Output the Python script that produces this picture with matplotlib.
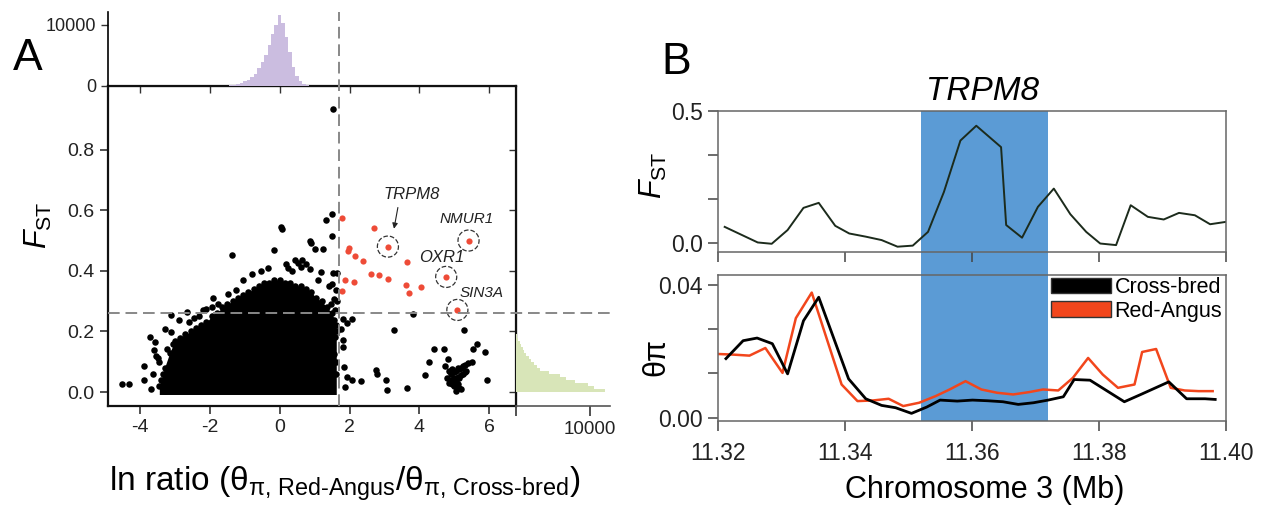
import numpy as np
import matplotlib.pyplot as plt
import matplotlib.transforms as mtransforms
from matplotlib.lines import Line2D
from matplotlib.patches import Rectangle, Patch

plt.rcParams['font.family'] = ['Liberation Sans', 'DejaVu Sans']
plt.rcParams['mathtext.fontset'] = 'custom'
plt.rcParams['mathtext.rm'] = 'Liberation Sans'
plt.rcParams['mathtext.it'] = 'Liberation Sans:italic'
plt.rcParams['axes.unicode_minus'] = False

# ---------------- panel A data ----------------
# dense core of the cloud: upper envelope (x, top F_ST)
core_x = [-3.45, -3.3, -3.15, -3.0, -2.85, -2.7, -2.55, -2.4, -2.25, -2.1, -1.95, -1.8,
          -1.65, -1.5, -1.35, -1.2, -1.05, -0.9, -0.75, -0.6, -0.45, -0.3, -0.15, 0.0,
          0.15, 0.3, 0.45, 0.6, 0.75, 0.9, 1.05, 1.2, 1.35, 1.5, 1.62]
core_top = [0.02, 0.08, 0.13, 0.17, 0.18, 0.19, 0.20, 0.21, 0.22, 0.23, 0.25, 0.26,
            0.28, 0.29, 0.30, 0.31, 0.32, 0.33, 0.34, 0.35, 0.36, 0.36, 0.37, 0.37,
            0.36, 0.36, 0.35, 0.35, 0.34, 0.33, 0.31, 0.30, 0.28, 0.26, 0.22]

# scattered black windows outside the core
pts_x = [1.53, 1.51, 1.33, 1.49, 0.04, 0.06, 0.86, 0.91, 1.0, 1.24, -0.15, -1.38, 0.18,
         0.44, 0.51, 0.65, 0.74, 0.62, 0.88, 1.18, 1.53, 1.65, 1.49, 1.61, 1.56, 1.47,
         1.59, 1.56, 1.53, 1.59, 1.56, 1.61, -1.06, -1.24, -1.47, -1.76, -1.94, -2.12,
         -2.65, -3.12, -2.88, -3.29, -3.12, -3.73, -3.56, -3.59, -3.49, -3.88, -3.88,
         -4.32, -4.51, -3.24, -2.98, -3.18, -3.35, -3.45, -3.05, -2.6, -2.3,
         -3.62, -3.55, -3.4, -3.7, -3.3, -2.45, -2.2, -1.9, -0.55, -0.35, 0.25, 0.35,
         -0.8, 1.1, 1.4, 1.63, 1.64, 1.62,
         1.82, 2.08, 1.92, 1.76, 1.82, 1.80, 1.85, 1.94, 2.06, 1.88, 2.34, 2.76, 2.79,
         3.04, 3.06, 3.65, 3.82, 3.27, 5.29, 5.65, 5.88, 5.53, 4.41, 4.71, 4.29, 4.82,
         4.15, 5.94,
         4.75, 4.85, 4.9, 4.95, 5.0, 5.05, 5.1, 5.15, 5.2, 5.25, 5.3, 5.4, 5.5, 4.8, 4.9,
         5.0, 5.05, 5.1, 5.15, 5.2, 5.25, 4.95, 5.0, 5.1, 5.15, 5.2, 5.05, 4.85, 5.3, 5.35]
pts_y = [0.935, 0.589, 0.567, 0.514, 0.545, 0.538, 0.50, 0.492, 0.473, 0.473, 0.47, 0.451,
         0.424, 0.437, 0.426, 0.435, 0.424, 0.413, 0.407, 0.396, 0.393, 0.393, 0.358,
         0.336, 0.308, 0.292, 0.27, 0.237, 0.204, 0.182, 0.127, 0.061, 0.369, 0.336,
         0.325, 0.292, 0.281, 0.275, 0.264, 0.253, 0.237, 0.209, 0.198, 0.182, 0.165,
         0.14, 0.113, 0.085, 0.041, 0.028, 0.028, 0.143, 0.083, 0.028, 0.061, 0.10,
         0.16, 0.23, 0.25,
         0.06, 0.12, 0.04, 0.01, 0.005, 0.245, 0.27, 0.31, 0.40, 0.41, 0.41, 0.40,
         0.39, 0.37, 0.35, 0.30, 0.20, 0.10,
         0.242, 0.242, 0.228, 0.209, 0.171, 0.149, 0.083, 0.05, 0.041, 0.017, 0.035,
         0.074, 0.061, 0.039, 0.008, 0.014, 0.259, 0.204, 0.204, 0.16, 0.132, 0.143,
         0.143, 0.143, 0.099, 0.11, 0.055, 0.039,
         0.085, 0.07, 0.06, 0.075, 0.065, 0.07, 0.08, 0.075, 0.08, 0.085, 0.09, 0.095,
         0.10, 0.045, 0.04, 0.045, 0.035, 0.05, 0.045, 0.055, 0.06, 0.025, 0.02, 0.025,
         0.015, 0.01, 0.005, 0.03, 0.065, 0.07]

# outlier windows (red)
red_x = [1.78, 2.71, 3.10, 5.41, 1.99, 1.95, 2.17, 2.40, 3.64, 4.77, 1.87, 2.13, 2.62,
         2.84, 3.11, 3.62, 3.71, 4.04, 1.78, 5.09]
red_y = [0.576, 0.543, 0.480, 0.500, 0.475, 0.466, 0.450, 0.434, 0.429, 0.380, 0.370,
         0.363, 0.390, 0.385, 0.374, 0.353, 0.328, 0.346, 0.335, 0.271]

genes = ['TRPM8', 'NMUR1', 'OXR1', 'SIN3A']
gene_x = [3.10, 5.41, 4.77, 5.09]
gene_y = [0.480, 0.500, 0.380, 0.271]
label_x = [3.78, 5.36, 4.64, 5.79]
label_y = [0.651, 0.571, 0.445, 0.326]
label_size = [12, 11, 12, 11]

# marginal histograms
ratio_bins = [-1.5, -1.4, -1.3, -1.2, -1.1, -1.0, -0.9, -0.8, -0.7, -0.6, -0.5, -0.4,
              -0.3, -0.2, -0.1, 0.0, 0.1, 0.2, 0.3, 0.4, 0.5, 0.6, 0.7, 0.8, 0.9]
ratio_counts = [50, 100, 200, 300, 500, 750, 1000, 1400, 2000, 2900, 3900, 5000, 6800,
                8600, 10000, 11600, 10300, 8000, 5600, 3100, 1600, 800, 300, 100, 30]
fst_bins = [0.00, 0.01, 0.02, 0.03, 0.04, 0.05, 0.06, 0.07, 0.08, 0.09, 0.10, 0.11,
            0.12, 0.13, 0.14, 0.15, 0.16, 0.17, 0.18, 0.19]
fst_counts = [12000, 10500, 9700, 8000, 6800, 6000, 4500, 3300, 2800, 2400, 2000, 1700,
              1400, 1100, 900, 700, 500, 300, 150, 50]

ratio_cut = 1.70
fst_cut = 0.26

# ---------------- panel B data ----------------
pos_fst = [11.3211, 11.3263, 11.3285, 11.3310, 11.3335, 11.3359, 11.3385, 11.3407,
           11.3433, 11.3458, 11.3483, 11.3507, 11.3531, 11.3556, 11.3582, 11.3607,
           11.3646, 11.3654, 11.3679, 11.3704, 11.3729, 11.3755, 11.3780, 11.3802,
           11.3827, 11.3850, 11.3877, 11.3902, 11.3926, 11.3951, 11.3975, 11.4000]
fst_val = [0.060, 0.001, -0.004, 0.048, 0.132, 0.151, 0.064, 0.035, 0.023, 0.010, -0.015,
           -0.011, 0.041, 0.192, 0.387, 0.443, 0.362, 0.067, 0.019, 0.136, 0.205, 0.108,
           0.041, -0.003, -0.009, 0.142, 0.098, 0.088, 0.113, 0.104, 0.070, 0.079]

pos_cross = [11.3213, 11.3240, 11.3262, 11.3286, 11.3310, 11.3335, 11.3359, 11.3406,
             11.3433, 11.3458, 11.3480, 11.3505, 11.3529, 11.3550, 11.3577, 11.3601,
             11.3625, 11.3649, 11.3673, 11.3697, 11.3720, 11.3744, 11.3761, 11.3786,
             11.3840, 11.3866, 11.3910, 11.3938, 11.3967, 11.3983]
pi_cross = [0.0178, 0.0232, 0.0240, 0.0223, 0.0132, 0.0292, 0.0363, 0.0117, 0.0057,
            0.0037, 0.0030, 0.0013, 0.0032, 0.0053, 0.0050, 0.0053, 0.0051, 0.0048,
            0.0040, 0.0045, 0.0053, 0.0063, 0.0115, 0.0113, 0.0048, 0.0070, 0.0108,
            0.0057, 0.0057, 0.0055]

pos_red = [11.3200, 11.3225, 11.3250, 11.3275, 11.3302, 11.3323, 11.3348, 11.3395,
           11.3420, 11.3445, 11.3469, 11.3492, 11.3517, 11.3543, 11.3565, 11.3590,
           11.3615, 11.3640, 11.3665, 11.3690, 11.3712, 11.3736, 11.3759, 11.3783,
           11.3806, 11.3830, 11.3856, 11.3868, 11.3890, 11.3913, 11.3935, 11.3957,
           11.3979]
pi_red = [0.0192, 0.0190, 0.0187, 0.0210, 0.0135, 0.0300, 0.0377, 0.0100, 0.0050,
          0.0052, 0.0057, 0.0035, 0.0045, 0.0065, 0.0085, 0.0110, 0.0085, 0.0075,
          0.0070, 0.0077, 0.0085, 0.0082, 0.0120, 0.0180, 0.0130, 0.0090, 0.0100,
          0.0198, 0.0207, 0.0090, 0.0082, 0.0080, 0.0080]

trpm8_start, trpm8_end = 11.352, 11.372

# ---------------- layout (pixels of a 1266x516 canvas) ----------------
W, H = 1266, 516


def box(x0, y0, x1, y1):
    return [x0 / W, 1 - y1 / H, (x1 - x0) / W, (y1 - y0) / H]


fig = plt.figure(figsize=(W / 100, H / 100), dpi=100)

purple = '#cbbde0'
green = '#d8e5b8'
red = '#ee4b37'
blue = '#5b9bd5'
orange = '#f2461c'
grey = '#888888'

# scatter
ax = fig.add_axes(box(108, 86, 516, 406))
ax.fill_between(core_x, -0.008, core_top, color='black', lw=0, zorder=2)
ax.scatter(core_x, core_top, s=22, color='black', lw=0, zorder=2)
ax.scatter(pts_x, pts_y, s=22, color='black', lw=0, zorder=2)
ax.scatter(red_x, red_y, s=20, color=red, lw=0, zorder=3)
ax.scatter(gene_x, gene_y, s=230, facecolor='none', edgecolor='#333333',
           linestyle='--', lw=0.9, zorder=3)
for g, lx, ly, fs in zip(genes, label_x, label_y, label_size):
    ax.text(lx, ly, g, style='italic', fontsize=fs, ha='center', va='center',
            color='#222222')
ax.annotate('', xy=(3.26, 0.53), xytext=(3.40, 0.618),
            arrowprops=dict(arrowstyle='-|>', lw=0.8, color='#222222',
                            mutation_scale=8))
ax.set_xlim(-4.92, 6.77)
ax.set_ylim(-0.046, 1.01)
ax.set_xticks([-4, -2, 0, 2, 4, 6])
ax.set_yticks([0.0, 0.2, 0.4, 0.6, 0.8])
ax.set_yticklabels(['0.0', '0.2', '0.4', '0.6', '0.8'])
ax.tick_params(direction='out', length=6, width=1.2, labelsize=14, color='#333333',
               labelcolor='#222222')
for s in ax.spines.values():
    s.set_linewidth(1.6)
    s.set_color('#111111')
top2 = ax.secondary_xaxis('top')
top2.set_xticks([-4, -2, 0, 2, 4, 6])
top2.tick_params(direction='in', length=5, width=1.0, labeltop=False, color='#333333')
right2 = ax.secondary_yaxis('right')
right2.set_yticks([0.0, 0.2, 0.4, 0.6, 0.8])
right2.tick_params(direction='in', length=5, width=1.0, labelright=False, color='#333333')

# top marginal histogram
axt = fig.add_axes(box(108, 12, 516, 86))
axt.bar(ratio_bins, ratio_counts, width=0.1, color=purple, lw=0)
axt.set_xlim(-4.92, 6.77)
axt.set_ylim(0, 12130)
axt.set_xticks([])
axt.set_yticks([0, 10000])
axt.set_yticklabels(['0', '10000'])
axt.tick_params(direction='out', length=5, width=1.0, labelsize=13, color='#333333',
                labelcolor='#222222')
axt.spines['top'].set_visible(False)
axt.spines['right'].set_visible(False)
axt.spines['left'].set_linewidth(1.2)
axt.spines['bottom'].set_visible(False)
axt.patch.set_alpha(0)

# right marginal histogram
axr = fig.add_axes(box(516, 86, 610, 406))
axr.barh(fst_bins, fst_counts, height=0.01, align='edge', color=green, lw=0)
axr.set_ylim(-0.046, 1.01)
axr.set_xlim(0, 12700)
axr.set_yticks([])
axr.set_xticks([0, 10000])
axr.set_xticklabels(['', '10000'])
axr.tick_params(direction='out', length=7, width=1.2, labelsize=13.5, color='#333333',
                labelcolor='#222222')
axr.spines['top'].set_visible(False)
axr.spines['right'].set_visible(False)
axr.spines['left'].set_visible(False)
axr.spines['bottom'].set_color('#555555')
axr.spines['bottom'].set_linewidth(1.2)
axr.patch.set_alpha(0)

# threshold lines spanning scatter and margins
tr_h = mtransforms.blended_transform_factory(fig.transFigure, ax.transData)
fig.add_artist(Line2D([108 / W, 612 / W], [fst_cut, fst_cut], transform=tr_h,
                      color=grey, lw=1.4, dashes=(6, 3), zorder=5))
tr_v = mtransforms.blended_transform_factory(ax.transData, fig.transFigure)
fig.add_artist(Line2D([ratio_cut, ratio_cut], [1 - 406 / H, 1 - 12 / H], transform=tr_v,
                      color=grey, lw=1.4, dashes=(6, 3), zorder=5))

fig.text(28 / W, 1 - 58 / H, 'A', fontsize=32, ha='center', va='center')
fig.text(38 / W, 1 - 225 / H, r'$\mathit{F}_{\mathrm{ST}}$', fontsize=22, rotation=90,
         ha='center', va='center')
fig.text(345 / W, 1 - 484 / H,
         r'ln ratio (θ$_{\text{π, Red-Angus}}$/θ$_{\text{π, Cross-bred}}$)',
         fontsize=24, ha='center', va='center')

# ---------------- panel B ----------------
ax1 = fig.add_axes(box(717.7, 110.7, 1226, 251.7))
ax2 = fig.add_axes(box(717.7, 275, 1226, 421))
for a in (ax1, ax2):
    a.patch.set_alpha(0)
    a.set_xlim(11.32, 11.40)
    a.set_xticks([11.32, 11.34, 11.36, 11.38, 11.40])
    a.tick_params(direction='out', length=7, width=1.1, labelsize=16.5, color='#444444',
                  labelcolor='#222222')
    for s in a.spines.values():
        s.set_color('#666666')
        s.set_linewidth(1.1)

ax1.plot(pos_fst, fst_val, color='#1c2b1c', lw=1.4)
ax1.set_ylim(-0.034, 0.5)
ax1.set_yticks([0, 1 / 6, 1 / 3, 0.5])
ax1.set_yticklabels(['0.0', '', '', '0.5'])
ax1.set_xticklabels([])

ax2.plot(pos_red, pi_red, color=orange, lw=1.8)
ax2.plot(pos_cross, pi_cross, color='black', lw=2.0)
ax2.set_ylim(-0.001, 0.043)
ax2.set_yticks([0, 0.04 / 3, 0.08 / 3, 0.04])
ax2.set_yticklabels(['0.00', '', '', '0.04'])
ax2.set_xticklabels(['11.32', '11.34', '11.36', '11.38', '11.40'])
ax2.tick_params(axis='x', pad=8)

# TRPM8 region spanning both panels
tr_b = mtransforms.blended_transform_factory(ax1.transData, fig.transFigure)
fig.add_artist(Rectangle((trpm8_start, 1 - 421 / H), trpm8_end - trpm8_start,
                         (421 - 110.7) / H, transform=tr_b, color=blue, lw=0,
                         zorder=-1))
fig.text(983 / W, 1 - 92 / H, 'TRPM8', style='italic', fontsize=24, ha='center',
         va='center')

handles = [Patch(facecolor='black', edgecolor='#333333', lw=1.0),
           Patch(facecolor=orange, edgecolor='#333333', lw=1.0)]
ax2.legend(handles, ['Cross-bred', 'Red-Angus'], loc='upper left',
           bbox_to_anchor=(1051 / W, 1 - 277 / H), bbox_transform=fig.transFigure,
           frameon=False, fontsize=15.5, handlelength=2.8, handleheight=0.75,
           handletextpad=0.15, labelspacing=0.12, borderpad=0, borderaxespad=0)

fig.text(676 / W, 1 - 63 / H, 'B', fontsize=32, ha='center', va='center')
fig.text(653 / W, 1 - 175 / H, r'$\mathit{F}_{\mathrm{ST}}$', fontsize=22, rotation=90,
         ha='center', va='center')
fig.text(656 / W, 1 - 357 / H, 'θπ', fontsize=22, rotation=90, ha='center',
         va='center')
fig.text(985 / W, 1 - 490 / H, 'Chromosome 3 (Mb)', fontsize=22, ha='center',
         va='center')

fig.savefig('out.png', dpi=100)
